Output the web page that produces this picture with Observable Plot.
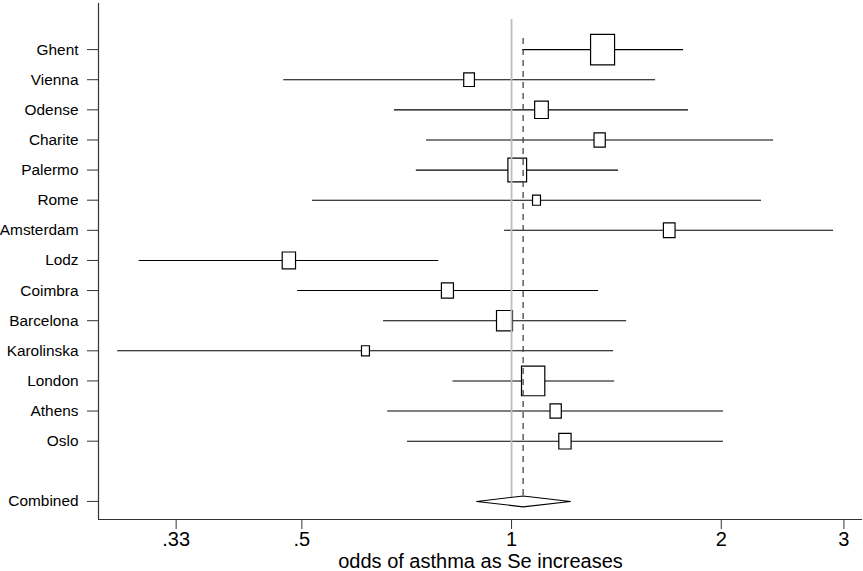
<!DOCTYPE html>
<html>
<head>
<meta charset="utf-8">
<script src="https://cdn.jsdelivr.net/npm/d3@7"></script>
<script src="https://cdn.jsdelivr.net/npm/@observablehq/plot@0.6"></script>
<style>
  html, body { margin: 0; padding: 0; background: #fff; }
  #chart svg { display: block; }
</style>
</head>
<body>
<div id="chart"></div>
<script>
// ---- data ----
const studies = ["Ghent","Vienna","Odense","Charite","Palermo","Rome","Amsterdam","Lodz","Coimbra","Barcelona","Karolinska","London","Athens","Oslo"];
const rowPos  = [1,2,3,4,5,6,7,8,9,10,11,12,13,14];
const estimate = [1.351,0.869,1.104,1.338,1.019,1.086,1.684,0.479,0.809,0.977,0.617,1.074,1.157,1.193];
const lower    = [1.037,0.471,0.679,0.755,0.730,0.518,0.977,0.292,0.493,0.655,0.272,0.824,0.664,0.709];
const upper    = [1.766,1.610,1.795,2.378,1.424,2.285,2.899,0.786,1.333,1.463,1.401,1.406,2.015,2.015];
const weights  = [19.1,3.8,6.2,4.2,11.6,2.1,4.5,5.9,4.8,8.5,2.1,18.0,4.2,5.0];

const combinedLabel = "Combined";
const combinedRow = 16;
const combinedEst = 1.039;
const combinedLo  = 0.891;
const combinedHi  = 1.215;

const xTicks      = [0.33, 0.5, 1, 2, 3];
const xTickLabels = [".33", ".5", "1", "2", "3"];
const xDomain = [0.2553, 3.19];
const yDomain = [-0.53, 16.6];
const xTitle = "odds of asthma as Se increases";

// ---- derived tables ----
const rows = studies.map((s, i) => ({study: s, row: rowPos[i], est: estimate[i], lo: lower[i], hi: upper[i], w: weights[i]}));
const yTickVals = [...rowPos, combinedRow];
const yTickText = new Map([...studies.map((s, i) => [rowPos[i], s]), [combinedRow, combinedLabel]]);
const xTickText = new Map(xTicks.map((t, i) => [t, xTickLabels[i]]));
const dh = 0.18;
const diamond = [
  {x: combinedLo, y: combinedRow},
  {x: combinedEst, y: combinedRow - dh},
  {x: combinedHi, y: combinedRow},
  {x: combinedEst, y: combinedRow + dh},
  {x: combinedLo, y: combinedRow}
];

// rectangular box symbol (slightly taller than wide)
const boxSymbol = {
  draw(ctx, size) {
    const r = Math.sqrt(size / Math.PI);
    const w = r, h = r * 1.27;
    ctx.moveTo(-w, -h); ctx.lineTo(w, -h); ctx.lineTo(w, h); ctx.lineTo(-w, h); ctx.closePath();
  }
};

const chart = Plot.plot({
  width: 863,
  height: 571,
  marginLeft: 98,
  marginRight: 1,
  marginTop: 3,
  marginBottom: 52,
  style: {fontFamily: "'Liberation Sans', Arial, sans-serif", color: "#000", background: "#fff"},
  x: {type: "log", domain: xDomain},
  y: {domain: yDomain, reverse: true},
  r: {type: "sqrt", domain: [0, d3.max(weights)], range: [0, 12]},
  marks: [
    // axis lines
    Plot.ruleX([xDomain[0]], {stroke: "#333", strokeWidth: 1.2}),
    Plot.ruleY([yDomain[1]], {stroke: "#333", strokeWidth: 1.2}),
    Plot.axisY({
      ticks: yTickVals, tickFormat: d => yTickText.get(d), tickSize: 11, tickPadding: 9,
      fontSize: 15.4, label: null, stroke: "#333", fill: "#000"
    }),
    Plot.axisX({
      ticks: xTicks, tickFormat: d => xTickText.get(d), tickSize: 10, tickPadding: 2,
      fontSize: 20, label: xTitle, labelAnchor: "center", labelArrow: "none", labelOffset: 48,
      stroke: "#333", fill: "#000"
    }),
    // confidence intervals
    Plot.ruleY(rows, {y: "row", x1: "lo", x2: "hi", stroke: "#000", strokeWidth: 1.1}),
    // weighted boxes
    Plot.dot(rows, {x: "est", y: "row", r: "w", symbol: boxSymbol, fill: "#fff", stroke: "#000", strokeWidth: 1.2}),
    // reference line at 1
    Plot.ruleX([1], {y1: 0, y2: 16.05, stroke: "#bdbdbd", strokeWidth: 1.8}),
    // combined estimate line
    Plot.ruleX([combinedEst], {y1: 0.63, y2: combinedRow - dh, stroke: "#444", strokeWidth: 1.3, strokeDasharray: "6,5"}),
    // combined diamond
    Plot.line(diamond, {x: "x", y: "y", stroke: "#000", strokeWidth: 1.1, fill: "#fff", curve: "linear"})
  ]
});
document.getElementById("chart").appendChild(chart);
</script>
</body>
</html>
